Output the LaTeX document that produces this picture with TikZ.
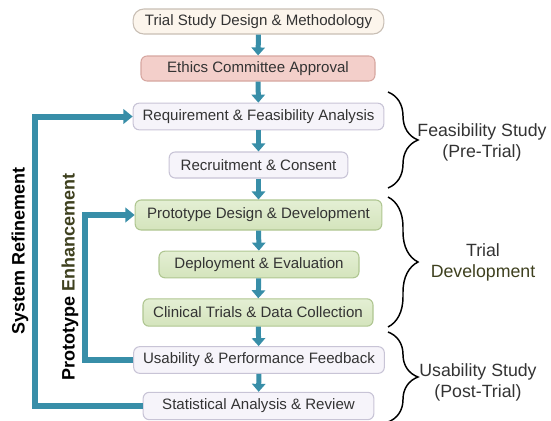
\documentclass[tikz,border=0pt]{standalone}
\usepackage{fontspec}
\setmainfont{Liberation Sans}
\usetikzlibrary{arrows.meta,decorations.pathreplacing}

\definecolor{flowteal}{RGB}{56,142,168}
\definecolor{txtgrey}{RGB}{51,51,51}
\definecolor{olivetxt}{RGB}{62,64,30}
\definecolor{creamfill}{RGB}{252,245,236}
\definecolor{creamline}{RGB}{200,190,180}
\definecolor{pinkfill}{RGB}{243,207,202}
\definecolor{pinkline}{RGB}{214,166,160}
\definecolor{lavfill}{RGB}{246,244,250}
\definecolor{lavline}{RGB}{200,196,214}
\definecolor{greentop}{RGB}{228,239,212}
\definecolor{greenbot}{RGB}{212,228,188}
\definecolor{greenline}{RGB}{175,198,145}

\tikzset{every picture/.style={line width=0.75pt}}
\tikzset{
  stagebox/.style={rounded corners=4.5pt, line width=0.8pt, text=txtgrey, inner sep=0pt,
    font=\fontsize{11.3}{13}\selectfont},
  creambox/.style={stagebox, draw=creamline, fill=creamfill, rounded corners=8pt},
  pinkbox/.style={stagebox, draw=pinkline, fill=pinkfill},
  lavbox/.style={stagebox, draw=lavline, fill=lavfill},
  greenbox/.style={stagebox, draw=greenline, top color=greentop, bottom color=greenbot},
  flowarrow/.style={draw=flowteal, line width=3.75pt, -{Triangle[width=10pt,length=6pt]}},
  looparrow/.style={draw=flowteal, line width=4.5pt, -{Triangle[width=11pt,length=7pt]}},
  phasebrace/.style={decorate, decoration={brace, amplitude=22.5pt}, line width=1.1pt},
  phaselabel/.style={align=center, text=txtgrey, inner sep=0pt,
    font=\fontsize{13.3}{15.8}\selectfont},
  looplabel/.style={rotate=90, inner sep=0pt, font=\fontsize{13.5}{16}\selectfont\bfseries}
}

\begin{document}
\begin{tikzpicture}[x=0.75pt,y=0.75pt,yscale=-1,xscale=1]
\useasboundingbox (0,0) rectangle (551,421);

%Shape: Rounded Rect [id:design] 
\node (design) at (258.5,21.5) [creambox, minimum width=188pt, minimum height=18.75pt] {Trial Study Design \& Methodology};
%Shape: Rounded Rect [id:ethics] 
\node (ethics) at (258,68.5) [pinkbox, minimum width=175.5pt, minimum height=18.75pt] {Ethics Committee Approval};
%Shape: Rounded Rect [id:feasib] 
\node (feasib) at (258.5,116.5) [lavbox, minimum width=188pt, minimum height=20pt] {Requirement \& Feasibility Analysis};
%Shape: Rounded Rect [id:recruit] 
\node (recruit) at (258.5,165) [lavbox, minimum width=134pt, minimum height=19.5pt] {Recruitment \& Consent};
%Shape: Rounded Rect [id:proto] 
\node (proto) at (258.5,215) [greenbox, minimum width=185pt, minimum height=22.5pt] {Prototype Design \& Development};
%Shape: Rounded Rect [id:deploy] 
\node (deploy) at (259,264.5) [greenbox, minimum width=150pt, minimum height=20pt] {Deployment \& Evaluation};
%Shape: Rounded Rect [id:clinical] 
\node (clinical) at (258,312.5) [greenbox, minimum width=172.5pt, minimum height=20.5pt] {Clinical Trials \& Data Collection};
%Shape: Rounded Rect [id:feedback] 
\node (feedback) at (259,360) [lavbox, minimum width=188pt, minimum height=20pt] {Usability \& Performance Feedback};
%Shape: Rounded Rect [id:stats] 
\node (stats) at (258.5,406) [lavbox, minimum width=173pt, minimum height=20.5pt] {Statistical Analysis \& Review};

%Straight Lines [id:flow] 
\draw [flowarrow] (design) -- (ethics);
\draw [flowarrow] (ethics) -- (feasib);
\draw [flowarrow] (feasib) -- (recruit);
\draw [flowarrow] (recruit) -- (proto);
\draw [flowarrow] (proto) -- (deploy);
\draw [flowarrow] (deploy) -- (clinical);
\draw [flowarrow] (clinical) -- (feedback);
\draw [flowarrow] (feedback) -- (stats);

%Straight Lines [id:sysloop] 
\coordinate (syscorner) at (35,406);
\draw [looparrow] (stats.west) -- (syscorner) |- (feasib.west);
%Straight Lines [id:protoloop] 
\coordinate (protocorner) at (85,360);
\draw [looparrow] (feedback.west) -- (protocorner) |- (proto.west);

% Text Node
\node (sysref) at (20,251) [looplabel] {System Refinement};
% Text Node
\node (protoenh) at (70,277) [looplabel] {Prototype \textcolor{olivetxt}{Enhancement}};

%Shape: Brace [id:prebrace] 
\coordinate (pretop) at (388,92);
\coordinate (prebot) at (388,188);
\draw [phasebrace] (pretop) -- (prebot);
%Shape: Brace [id:devbrace] 
\coordinate (devtop) at (388,197);
\coordinate (devbot) at (388,327);
\draw [phasebrace] (devtop) -- (devbot);
%Shape: Brace [id:postbrace] 
\coordinate (posttop) at (388,332);
\coordinate (postbot) at (388,422);
\draw [phasebrace] (posttop) -- (postbot);

% Text Node
\node (prelabel) at (482,142.5) [phaselabel] {Feasibility Study\\(Pre-Trial)};
% Text Node
\node (devlabel) at (483,262.5) [phaselabel] {Trial\\\textcolor{olivetxt}{Development}};
% Text Node
\node (postlabel) at (478,382.5) [phaselabel] {Usability Study\\(Post-Trial)};

\end{tikzpicture}
\end{document}
